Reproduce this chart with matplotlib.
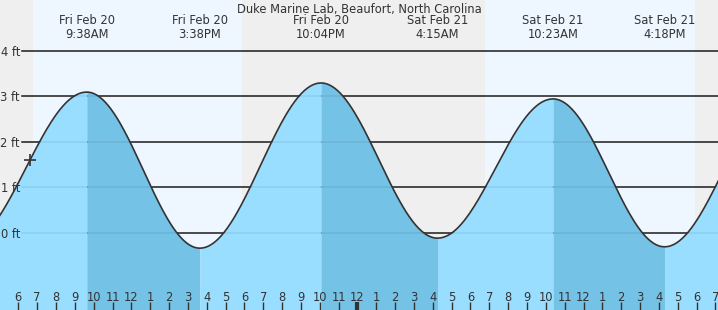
import matplotlib.pyplot as plt
import matplotlib.transforms as mtransforms
from matplotlib.ticker import FixedLocator, FixedFormatter
import numpy as np

station = 'Duke Marine Lab, Beaufort, North Carolina'

# tide extremes, hours counted from Fri Feb 20 00:00 (first and last are off-chart)
tide_hours = [3.17, 9.633, 15.633, 22.067, 28.25, 34.383, 40.30, 46.5]
tide_ft = [-0.25, 3.09, -0.34, 3.29, -0.12, 2.94, -0.31, 3.0]
tide_labels = [None, 'Fri Feb 20\n9:38AM', 'Fri Feb 20\n3:38PM', 'Fri Feb 20\n10:04PM',
               'Sat Feb 21\n4:15AM', 'Sat Feb 21\n10:23AM', 'Sat Feb 21\n4:18PM', None]

# sunrise / sunset
daylight = [(6.78, 17.87), (30.77, 41.92)]
now_hour = 6.62

y_levels = [0, 1, 2, 3, 4]
hour_ticks = list(range(5, 44))
hour_labels = [str(h % 12 if h % 12 else 12) for h in hour_ticks]
midnights = [24]

x_range = (5.027, 43.137)
y_range = (-1.699, 5.114)

night_color = '#efefef'
day_color = '#eef7ff'
rising_color = '#99ddff'
falling_color = '#74c2e6'
text_color = '#333333'
fs = 8.3

fig = plt.figure(figsize=(7.18, 3.10), dpi=100)
ax = fig.add_axes([0, 0, 1, 1])
ax.set_facecolor(night_color)
for s in ax.spines.values():
    s.set_visible(False)

for start, end in daylight:
    ax.axvspan(start, end, color=day_color, zorder=0, lw=0)

# grid lines (black above water)
for lvl in y_levels:
    ax.axhline(lvl, xmin=22 / 718, color='#222222', lw=1.1, zorder=1)

# tide curve: cosine between each pair of extremes
all_t = []
all_v = []
for i in range(len(tide_hours) - 1):
    t1, t2 = tide_hours[i], tide_hours[i + 1]
    v1, v2 = tide_ft[i], tide_ft[i + 1]
    t = np.linspace(t1, t2, 80)
    v = (v1 + v2) / 2 + (v1 - v2) / 2 * np.cos(np.pi * (t - t1) / (t2 - t1))
    col = falling_color if v1 > v2 else rising_color
    ax.fill_between(t, v, y_range[0], color=col, lw=0, zorder=2)
    all_t.append(t)
    all_v.append(v)
all_t = np.concatenate(all_t)
all_v = np.concatenate(all_v)

# faint grid lines under water
for lvl in y_levels:
    ax.axhline(lvl, xmin=22 / 718, color='#000000', alpha=0.08, lw=1.1, zorder=3)

ax.plot(all_t, all_v, color='#333333', lw=1.2, zorder=4)
ax.plot([now_hour], [np.interp(now_hour, all_t, all_v)], marker='+', ms=9, mew=1.2,
        color='#333333', zorder=5)

trans = mtransforms.blended_transform_factory(ax.transData, ax.transAxes)
ax.text(0.5, 1 - 3 / 310, station, transform=ax.transAxes, ha='center', va='top',
        fontsize=fs, color=text_color)
for t, lab in zip(tide_hours, tide_labels):
    if lab:
        ax.text(t, 1 - 13.5 / 310, lab, transform=trans, ha='center', va='top',
                fontsize=fs, color=text_color, linespacing=1.1)

ax.set_xlim(*x_range)
ax.set_ylim(*y_range)

ax.set_yticks(y_levels)
ax.set_yticklabels([f'{v} ft' for v in y_levels])
ax.tick_params(axis='y', direction='in', length=0, pad=-14.4, labelsize=fs,
               labelcolor=text_color)

ax.xaxis.remove_overlapping_locs = False
ax.xaxis.set_major_locator(FixedLocator(midnights))
ax.xaxis.set_major_formatter(FixedFormatter([''] * len(midnights)))
ax.xaxis.set_minor_locator(FixedLocator(hour_ticks))
ax.xaxis.set_minor_formatter(FixedFormatter(hour_labels))
ax.tick_params(axis='x', which='minor', direction='in', length=6, width=1,
               color=text_color, pad=-13.7, labelsize=fs, labelcolor=text_color)
ax.tick_params(axis='x', which='major', direction='in', length=6, width=3,
               color=text_color)
ax.set_axisbelow(False)

fig.savefig('out.png', dpi=100)
